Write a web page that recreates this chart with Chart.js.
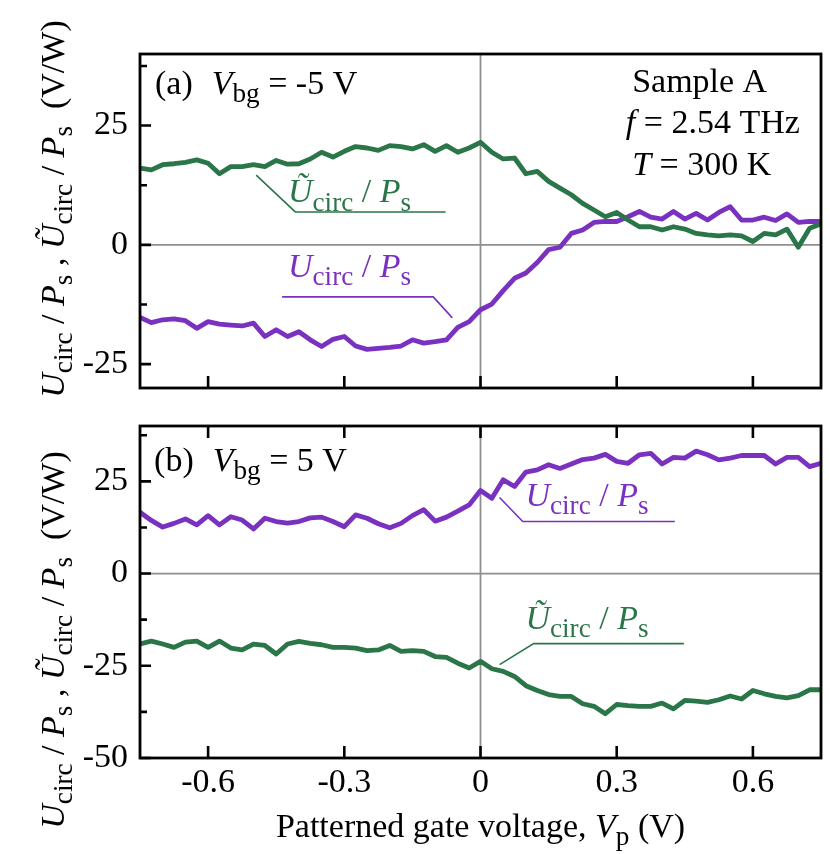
<!DOCTYPE html>
<html><head><meta charset="utf-8">
<script src="https://cdn.jsdelivr.net/npm/chart.js@4.4.1/dist/chart.umd.min.js"></script>
<style>
html,body{margin:0;padding:0;background:#fff;}
#wrap{position:relative;width:830px;height:854px;background:#fff;overflow:hidden}
#wa{position:absolute;left:0;top:0;width:830px;height:410px}
#wb{position:absolute;left:0;top:400px;width:830px;height:454px}
canvas{display:block}
</style></head><body>
<div id="wrap"><div id="wa"><canvas id="ca" width="830" height="410"></canvas></div><div id="wb"><canvas id="cb" width="830" height="454"></canvas></div></div>
<script>
// ---------- data ----------
const gateVoltage = [-0.75,-0.725,-0.7,-0.675,-0.65,-0.625,-0.6,-0.575,-0.55,-0.525,-0.5,-0.475,-0.45,-0.425,-0.4,-0.375,-0.35,-0.325,-0.3,-0.275,-0.25,-0.225,-0.2,-0.175,-0.15,-0.125,-0.1,-0.075,-0.05,-0.025,0,0.025,0.05,0.075,0.1,0.125,0.15,0.175,0.2,0.225,0.25,0.275,0.3,0.325,0.35,0.375,0.4,0.425,0.45,0.475,0.5,0.525,0.55,0.575,0.6,0.625,0.65,0.675,0.7,0.725,0.75];

// panel (a): Vbg = -5 V
const tildeA = [16.1,15.7,16.8,17.0,17.3,17.8,17.1,14.9,16.4,16.4,16.8,16.4,17.7,16.9,17.0,18.0,19.4,18.4,19.6,20.6,20.3,19.8,20.8,20.6,20.1,21.0,19.6,20.8,19.4,20.3,21.5,19.4,18.0,18.2,14.9,15.4,13.3,11.9,10.5,8.7,7.3,5.9,6.8,5.2,3.8,3.8,3.1,3.8,3.3,2.4,2.1,1.9,2.1,1.9,0.7,2.4,2.1,3.3,-0.5,3.5,4.4];
const circA = [-15.2,-16.3,-15.7,-15.5,-15.9,-17.5,-16.1,-16.6,-16.8,-17.0,-16.4,-19.2,-17.8,-19.2,-18.2,-19.9,-21.3,-19.8,-19.2,-21.2,-21.9,-21.7,-21.5,-21.2,-19.9,-20.6,-20.3,-19.9,-17.3,-16.1,-13.6,-12.4,-9.6,-7.0,-5.9,-3.7,-1.0,-0.5,2.4,3.1,4.7,4.9,4.9,5.9,7.0,5.8,5.4,7.0,5.4,6.6,5.2,6.8,8.0,5.2,5.2,5.8,5.1,6.5,4.7,4.9,4.9];

// panel (b): Vbg = 5 V
const circB = [16.6,14.4,12.6,13.6,14.8,13.2,15.7,13.2,15.4,14.5,12.1,15.0,14.1,13.7,14.1,15.1,15.3,14.1,12.7,15.9,15.0,13.5,12.4,13.6,15.7,17.3,14.2,15.3,16.9,18.6,22.5,20.4,25.4,23.6,27.5,28.1,29.5,28.5,29.7,30.9,31.3,32.3,30.4,29.9,32.2,32.6,29.7,31.5,31.3,33.2,32.2,30.8,31.3,32.0,32.0,32.0,29.7,31.5,31.5,29.0,29.9];
const tildeB = [-19.1,-18.3,-19.1,-20.0,-18.6,-18.3,-20.0,-18.3,-20.2,-20.7,-19.1,-19.5,-21.8,-19.1,-18.4,-18.9,-19.3,-20.0,-20.0,-20.2,-20.9,-20.7,-19.5,-21.1,-20.9,-21.1,-22.5,-22.7,-24.3,-25.6,-23.8,-25.8,-26.5,-27.9,-30.4,-31.7,-32.8,-33.3,-33.3,-35.3,-36.0,-38.0,-35.5,-35.8,-36.0,-36.0,-35.1,-36.7,-34.4,-34.6,-34.9,-34.2,-33.2,-34.0,-31.7,-32.6,-33.3,-33.7,-33.1,-31.5,-31.5];

const xTicks = [-0.6, -0.3, 0, 0.3, 0.6];
const yTicksA = [-25, 0, 25];
const yMinorA = [-12.5, 12.5, 37.5];
const yTicksB = [-50, -25, 0, 25];
const yMinorB = [-37.5, -12.5, 12.5, 37.5];

// ---------- style ----------
const FONT = 'Liberation Serif';
const FS = 34;
const GREEN = '#2b7649';
const PURPLE = '#7b31c0';

const segU = [{t:'U',i:1},{t:'circ',sub:1},{t:' / '},{t:'P',i:1},{t:'s',sub:1}];
const segUt = [{t:'\u0168',i:1},{t:'circ',sub:1},{t:' / '},{t:'P',i:1},{t:'s',sub:1}];
const segYTitle = [{t:'U',i:1},{t:'circ',sub:1},{t:' / '},{t:'P',i:1},{t:'s',sub:1},{t:' , '},{t:'\u0168',i:1},{t:'circ',sub:1},{t:' / '},{t:'P',i:1},{t:'s',sub:1},{t:'  (V/W)'}];
const segXTitle = [{t:'Patterned gate voltage, '},{t:'V',i:1},{t:'p',sub:1},{t:' (V)'}];

function setFont(ctx, s, size){
  const fs = s.sub ? size*0.8 : size;
  ctx.font = (s.i ? 'italic ' : '') + fs + 'px "' + FONT + '"';
}
function richWidth(ctx, segs, size){
  let w = 0;
  for (const s of segs){ setFont(ctx, s, size); w += ctx.measureText(s.t).width + (s.dx||0); }
  return w;
}
function drawRich(ctx, segs, x, y, size, color){
  ctx.fillStyle = color; ctx.textBaseline = 'alphabetic'; ctx.textAlign = 'left';
  let cx = x;
  for (const s of segs){
    setFont(ctx, s, size);
    cx += (s.dx||0);
    ctx.fillText(s.t, cx, y + (s.sub ? size*0.24 : 0));
    cx += ctx.measureText(s.t).width;
  }
}

function decoPlugin(cfg){
  return {
    id: 'deco',
    beforeDatasetsDraw(chart){
      const {ctx, chartArea:a, scales:{x, y}} = chart;
      ctx.save();
      ctx.strokeStyle = '#8f8f8f'; ctx.lineWidth = 1.8;
      const y0 = y.getPixelForValue(0), x0 = x.getPixelForValue(0);
      ctx.beginPath(); ctx.moveTo(a.left, y0); ctx.lineTo(a.right, y0);
      ctx.moveTo(x0, a.top); ctx.lineTo(x0, a.bottom); ctx.stroke();
      ctx.restore();
    },
    afterDatasetsDraw(chart){
      const {ctx, chartArea:a, scales:{x, y}} = chart;
      ctx.save();
      ctx.strokeStyle = '#000'; ctx.lineWidth = 2.6; ctx.lineCap = 'butt';
      ctx.beginPath();
      for (const v of cfg.yMajor){ const p = y.getPixelForValue(v); ctx.moveTo(a.left, p); ctx.lineTo(a.left+11, p); }
      for (const v of cfg.yMinor){ const p = y.getPixelForValue(v); ctx.moveTo(a.left, p); ctx.lineTo(a.left+7, p); }
      for (const v of xTicks){
        const p = x.getPixelForValue(v);
        ctx.moveTo(p, a.bottom); ctx.lineTo(p, a.bottom-12);
        if (cfg.topTicks){ ctx.moveTo(p, a.top); ctx.lineTo(p, a.top+12); }
      }
      ctx.stroke();
      ctx.lineWidth = 2.8;
      ctx.strokeRect(a.left, a.top, a.right-a.left, a.bottom-a.top);
      // annotations
      for (const an of cfg.notes){
        if (an.leader){
          ctx.strokeStyle = an.color; ctx.lineWidth = 1.6; ctx.beginPath();
          an.leader.forEach((pt,i)=>{ const px=x.getPixelForValue(pt[0]), py=y.getPixelForValue(pt[1]); if(i) ctx.lineTo(px,py); else ctx.moveTo(px,py); });
          ctx.stroke();
        }
        drawRich(ctx, an.segs, x.getPixelForValue(an.at[0]), y.getPixelForValue(an.at[1]), FS, an.color);
      }
      // y title (rotated)
      const w = richWidth(ctx, segYTitle, FS);
      ctx.save();
      ctx.translate(64, (a.top+a.bottom)/2 + cfg.titleShift);
      ctx.rotate(-Math.PI/2);
      drawRich(ctx, segYTitle, -w/2, 0, FS, '#000');
      ctx.restore();
      if (cfg.xTitle){
        const wx = richWidth(ctx, segXTitle, FS);
        drawRich(ctx, segXTitle, (a.left+a.right)/2 - wx/2, a.bottom + 79, FS, '#000');
      }
      ctx.restore();
    }
  };
}

function fmt(v){ return v === 0 ? '0' : String(v); }

function makeChart(id, sets, yMin, yMax, yMajor, showX, padTop, padBottom, plugin){
  return new Chart(document.getElementById(id), {
    type: 'line',
    data: { datasets: sets.map(s => ({
      data: gateVoltage.map((v,i)=>({x:v, y:s.vals[i]})),
      borderColor: s.color, borderWidth: 4.8, pointRadius: 0, tension: 0,
      borderJoinStyle: 'round', borderCapStyle: 'round', fill: false
    })) },
    options: {
      responsive: false, animation: false, devicePixelRatio: 1,
      layout: { padding: { top: padTop, right: 9, bottom: padBottom, left: 0 } },
      plugins: { legend: { display: false }, tooltip: { enabled: false } },
      scales: {
        x: {
          type: 'linear', min: -0.75, max: 0.75, display: showX,
          afterBuildTicks: s => { s.ticks = xTicks.map(v => ({value: v})); },
          grid: { display: false, drawTicks: false }, border: { display: false },
          ticks: { font: { family: FONT, size: FS }, color: '#000', padding: 5, maxRotation: 0, autoSkip: false, callback: v => fmt(v) },
          afterFit: s => { s.height = showX ? 96 : 0; s.paddingLeft = 0; s.paddingRight = 0; }
        },
        y: {
          type: 'linear', min: yMin, max: yMax,
          afterBuildTicks: s => { s.ticks = yMajor.map(v => ({value: v})); },
          grid: { display: false, drawTicks: false }, border: { display: false },
          ticks: { font: { family: FONT, size: FS }, color: '#000', padding: 12, autoSkip: false, callback: v => fmt(v) },
          afterFit: s => { s.width = 140; s.paddingTop = 0; s.paddingBottom = 0; }
        }
      }
    },
    plugins: [plugin]
  });
}

const notesA = [
  { at: [-0.717, 31.6], color: '#000', segs: [{t:'(a)  '},{t:'',dx:2},{t:'V',i:1},{t:'bg',sub:1},{t:' = -5 V'}] },
  { at: [0.334, 32.0], color: '#000', segs: [{t:'Sample A'}] },
  { at: [0.320, 23.4], color: '#000', segs: [{t:'f',i:1},{t:' = 2.54 THz'}] },
  { at: [0.334, 14.6], color: '#000', segs: [{t:'T',i:1},{t:' = 300 K'}] },
  { at: [-0.424, 8.9], color: GREEN, segs: segUt, leader: [[-0.494,14.6],[-0.408,6.9],[-0.077,6.9]] },
  { at: [-0.424, -6.8], color: PURPLE, segs: segU, leader: [[-0.437,-10.9],[-0.104,-10.9],[-0.062,-15.3]] }
];
const notesB = [
  { at: [-0.719, 27.9], color: '#000', segs: [{t:'(b)  '},{t:'',dx:2},{t:'V',i:1},{t:'bg',sub:1},{t:' = 5 V'}] },
  { at: [0.099, 18.4], color: PURPLE, segs: segU, leader: [[0.042,20.6],[0.093,14.1],[0.428,14.1]] },
  { at: [0.099, -14.9], color: GREEN, segs: segUt, leader: [[0.042,-24.7],[0.117,-19.0],[0.448,-19.0]] }
];

makeChart('ca', [{vals: tildeA, color: GREEN}, {vals: circA, color: PURPLE}], -30, 40, yTicksA, false, 54, 22,
  decoPlugin({yMajor: yTicksA, yMinor: yMinorA, topTicks: false, notes: notesA, titleShift: -12, xTitle: false}));
makeChart('cb', [{vals: circB, color: PURPLE}, {vals: tildeB, color: GREEN}], -50, 40, yTicksB, true, 26, 0,
  decoPlugin({yMajor: yTicksB, yMinor: yMinorB, topTicks: true, notes: notesB, titleShift: 48, xTitle: true}));
</script>
</body></html>
